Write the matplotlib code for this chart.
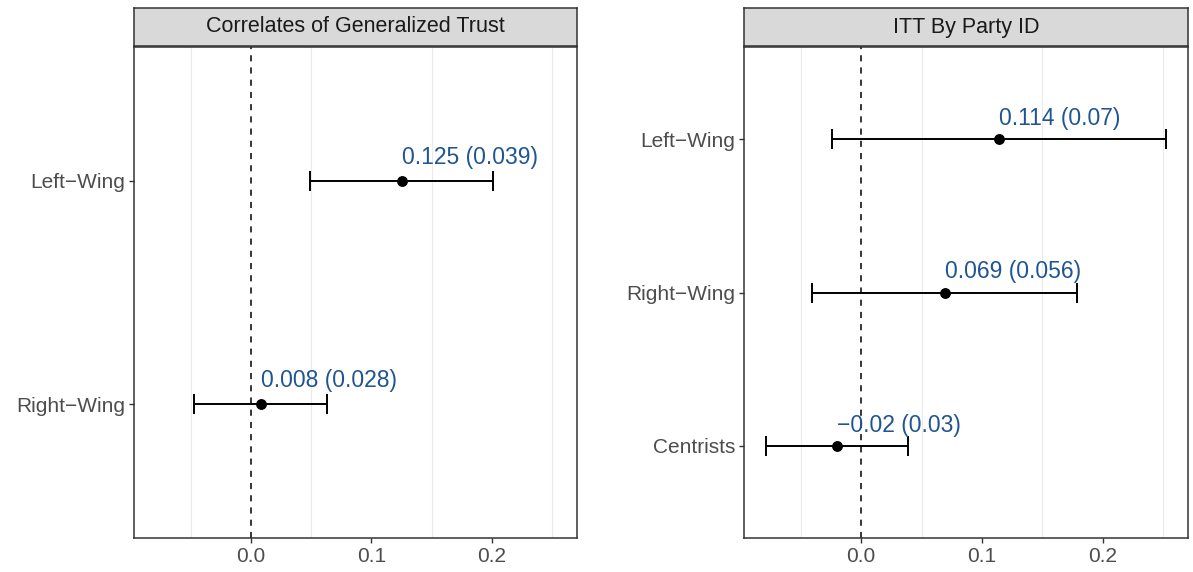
import matplotlib.pyplot as plt
from matplotlib.ticker import FixedLocator

# Panel 1: correlates of generalized trust
groups_1 = ["Right\u2212Wing", "Left\u2212Wing"]
est_1 = [0.008, 0.125]
se_1 = [0.028, 0.039]
lo_1 = [-0.047, 0.049]
hi_1 = [0.063, 0.201]

# Panel 2: ITT by party ID
groups_2 = ["Centrists", "Right\u2212Wing", "Left\u2212Wing"]
est_2 = [-0.02, 0.069, 0.114]
se_2 = [0.03, 0.056, 0.07]
lo_2 = [-0.079, -0.041, -0.024]
hi_2 = [0.039, 0.179, 0.252]

titles = ["Correlates of Generalized Trust", "ITT By Party ID"]
x_ticks = [0.0, 0.1, 0.2]
x_minor = [-0.05, 0.05, 0.15, 0.25]

W, H = 1193, 572
fig = plt.figure(figsize=(W / 100, H / 100), dpi=100)
plt.rcParams['font.family'] = ['Liberation Sans', 'DejaVu Sans']

label_blue = "#1F5592"
border = "#333333"


def px_box(x0, y0, x1, y1):
    return [x0 / W, 1 - y1 / H, (x1 - x0) / W, (y1 - y0) / H]


def panel(box, strip_box, title, groups, est, se, lo, hi, nudge):
    ax = fig.add_axes(px_box(*box))
    n = len(groups)
    ys = list(range(1, n + 1))
    ax.set_xlim(-0.097, 0.2705)
    ax.set_ylim(0.4, n + 0.6)
    ax.xaxis.set_minor_locator(FixedLocator(x_minor))
    ax.grid(which="minor", axis="x", color="#EBEBEB", lw=0.8)
    ax.set_axisbelow(True)
    ax.axvline(0, color="black", ls=(0, (4, 4)), lw=1.1)
    ax.errorbar(est, ys, xerr=[[e - l for e, l in zip(est, lo)],
                               [h - e for e, h in zip(est, hi)]],
                fmt="o", color="black", ms=6.8, elinewidth=1.4,
                capsize=7.5, capthick=1.4, zorder=3)
    for e, s, y in zip(est, se, ys):
        txt = f"{e:g} ({s:g})".replace("-", "\u2212")
        ax.annotate(txt, (e, y), xytext=(0, nudge), textcoords="offset points",
                    ha="left", va="center", color=label_blue, fontsize=16.5)
    ax.set_xticks(x_ticks)
    ax.set_xticklabels([f"{t:.1f}" for t in x_ticks])
    ax.set_yticks(ys)
    ax.set_yticklabels(groups)
    ax.tick_params(which="major", length=3.5, width=1, color=border,
                   labelcolor="#4D4D4D", labelsize=15, pad=3)
    ax.tick_params(which="minor", length=0)
    for sp in ax.spines.values():
        sp.set_color(border)
        sp.set_linewidth(1.1)

    st = fig.add_axes(px_box(*strip_box))
    st.set_facecolor("#D9D9D9")
    st.set_xticks([])
    st.set_yticks([])
    for sp in st.spines.values():
        sp.set_color(border)
        sp.set_linewidth(1.1)
    st.text(0.5, 0.5, title, ha="center", va="center", fontsize=15.5,
            color="#1A1A1A", transform=st.transAxes)
    return ax


panel((134, 47, 577, 538), (134, 8, 577, 46), titles[0],
      groups_1, est_1, se_1, lo_1, hi_1, 17)
panel((744, 47, 1188, 538), (744, 8, 1188, 46), titles[1],
      groups_2, est_2, se_2, lo_2, hi_2, 15)

fig.savefig("out.png", dpi=100)
